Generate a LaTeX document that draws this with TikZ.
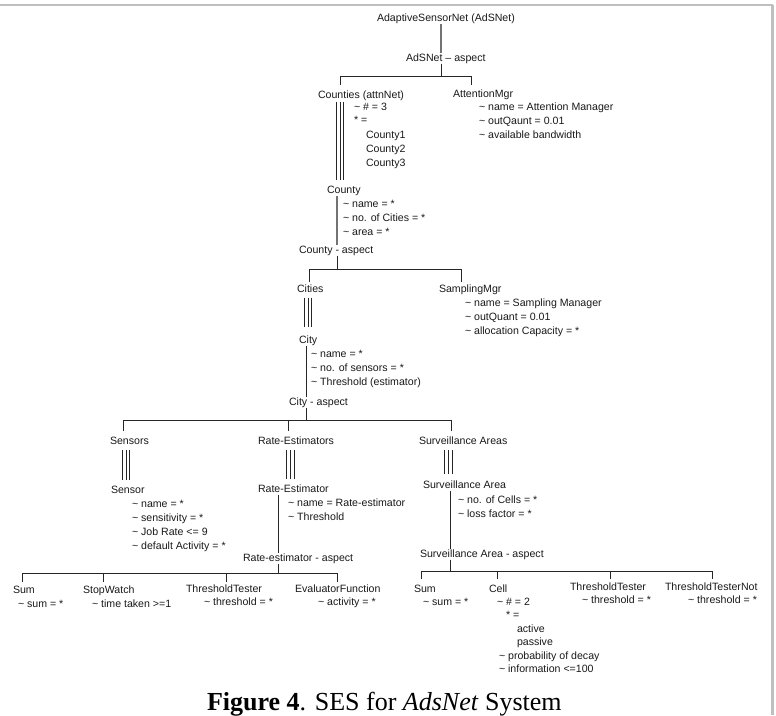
\documentclass[tikz,border=0pt]{standalone}
\usepackage{fontspec}
\setmainfont{Liberation Sans}
\newfontfamily\capfont{Liberation Serif}
\usetikzlibrary{calc}
\newcommand{\tld}{\textasciitilde}
\begin{document}
\begin{tikzpicture}[x=1pt,y=-1pt,
  lbl/.style={anchor=base west,inner sep=0pt,outer sep=0pt,text height=8pt,text depth=2.5pt,text=black!90,font=\fontsize{10.6}{12}\selectfont},
  conn/.style={draw=black!85,line width=1pt},
  conng/.style={draw=black!55,line width=1.6pt},
  multi/.style={draw=black!85,line width=0.9pt},
  framel/.style={draw=black!25},
  captxt/.style={anchor=base west,inner sep=0pt,outer sep=0pt,text=black,font=\capfont\fontsize{26}{28}\selectfont}]
\useasboundingbox (0,0) rectangle (776,715);
% frame
\draw[framel,line width=1.3pt] (0,5) -- (773,5);
\draw[framel,line width=2.2pt] (772.5,5) -- (772.5,715);

% ---------------- nodes ----------------
\node[lbl] (root) at (377,21) {AdaptiveSensorNet (AdSNet)};
\node[lbl] (asp1) at (406,61) {AdSNet – aspect};
\node[lbl] (counties) at (318,98) {Counties (attnNet)};
\node[lbl] (cnt1) at (354,110) {\tld{} \# = 3};
\node[lbl] (cnt2) at (354,123) {* =};
\node[lbl] (cnt3) at (366,138) {County1};
\node[lbl] (cnt4) at (366,152) {County2};
\node[lbl] (cnt5) at (366,166) {County3};
\node[lbl] (attn) at (453,97) {AttentionMgr};
\node[lbl] (attn1) at (479,110) {\tld{} name = Attention Manager};
\node[lbl] (attn2) at (479,124) {\tld{} outQaunt = 0.01};
\node[lbl] (attn3) at (479,138) {\tld{} available bandwidth};

\node[lbl] (county) at (327,193) {County};
\node[lbl] (cy1) at (343,207) {\tld{} name = *};
\node[lbl] (cy2) at (343,221) {\tld{} no. of Cities = *};
\node[lbl] (cy3) at (343,235) {\tld{} area = *};
\node[lbl] (ca) at (299,253) {County - aspect};
\node[lbl] (cities) at (297,292) {Cities};
\node[lbl] (samp) at (439,292) {SamplingMgr};
\node[lbl] (sm1) at (465,306) {\tld{} name = Sampling Manager};
\node[lbl] (sm2) at (465,320) {\tld{} outQuant = 0.01};
\node[lbl] (sm3) at (465,334) {\tld{} allocation Capacity = *};
\node[lbl] (city) at (299,343) {City};
\node[lbl] (ct1) at (311,357) {\tld{} name = *};
\node[lbl] (ct2) at (311,371) {\tld{} no. of sensors = *};
\node[lbl] (ct3) at (311,385) {\tld{} Threshold (estimator)};
\node[lbl] (cya) at (289,405) {City - aspect};

\node[lbl] (sensors) at (110,444) {Sensors};
\node[lbl] (rates) at (258,444) {Rate-Estimators};
\node[lbl] (sas) at (419,444) {Surveillance Areas};
\node[lbl] (sensor) at (111,493) {Sensor};
\node[lbl] (sn1) at (132,507) {\tld{} name = *};
\node[lbl] (sn2) at (132,521) {\tld{} sensitivity = *};
\node[lbl] (sn3) at (132,535) {\tld{} Job Rate <= 9};
\node[lbl] (sn4) at (132,549) {\tld{} default Activity = *};
\node[lbl] (rate) at (258,492) {Rate-Estimator};
\node[lbl] (rt1) at (288,506) {\tld{} name = Rate-estimator};
\node[lbl] (rt2) at (288,520) {\tld{} Threshold};
\node[lbl] (sa) at (423,488) {Surveillance Area};
\node[lbl] (sa1) at (458,503) {\tld{} no. of Cells = *};
\node[lbl] (sa2) at (458,517) {\tld{} loss factor = *};
\node[lbl] (rea) at (243,561) {Rate-estimator - aspect};
\node[lbl] (saa) at (420,557) {Surveillance Area - aspect};

\node[lbl] (sumA) at (13,593) {Sum};
\node[lbl] (sumA1) at (18,607) {\tld{} sum = *};
\node[lbl] (sw) at (83,593) {StopWatch};
\node[lbl] (sw1) at (92,607) {\tld{} time taken >=1};
\node[lbl] (ttA) at (186,592) {ThresholdTester};
\node[lbl] (ttA1) at (204,605) {\tld{} threshold = *};
\node[lbl] (ef) at (295,592) {EvaluatorFunction};
\node[lbl] (ef1) at (318,605) {\tld{} activity = *};

\node[lbl] (sumB) at (414,592) {Sum};
\node[lbl] (sumB1) at (423,605) {\tld{} sum = *};
\node[lbl] (cell) at (489,592) {Cell};
\node[lbl] (ce1) at (497,605) {\tld{} \# = 2};
\node[lbl] (ce2) at (506,618.5) {* =};
\node[lbl] (ce3) at (517,632) {active};
\node[lbl] (ce4) at (517,645.5) {passive};
\node[lbl] (ce5) at (499,659) {\tld{} probability of decay};
\node[lbl] (ce6) at (499,672.5) {\tld{} information <=100};
\node[lbl] (ttB) at (570,590) {ThresholdTester};
\node[lbl] (ttB1) at (582,603) {\tld{} threshold = *};
\node[lbl] (ttn) at (665,590) {ThresholdTesterNot};
\node[lbl] (ttn1) at (688,603) {\tld{} threshold = *};

\node[captxt] (cap) at (207,710.5) {\textbf{Figure 4}. SES for \textit{AdsNet} System};

% ---------------- connectors ----------------
% AdSNet
\coordinate (j0) at (441,76);
\coordinate (j0l) at (340,76);
\coordinate (j0r) at (471,76);
\draw[conng] (root.south -| j0) -- (asp1.north -| j0);
\draw[conn] (asp1.south -| j0) -- (j0);
\draw[conn] ($(counties.north -| j0l)+(0,-5)$) -- (j0l) -- (j0r) -- ($(attn.north -| j0r)+(0,-4)$);
\coordinate (m0) at (340,0);
\foreach \d in {-3.2,0,3.2}{\draw[multi] ($(counties.south -| m0)+(\d,1)$) -- ($(county.north -| m0)+(\d,-5)$);}

% County
\coordinate (j1) at (337,269);
\coordinate (j1l) at (309,269);
\coordinate (j1r) at (461,269);
\draw[conng] (county.south -| j1) -- (ca.north -| j1);
\draw[conn] (ca.south -| j1) -- (j1);
\draw[conn] ($(cities.north -| j1l)+(0,-2)$) -- (j1l) -- (j1r) -- ($(samp.north -| j1r)+(0,-2)$);
\coordinate (m1) at (308,0);
\foreach \d in {-3.5,0,3.5}{\draw[multi] ($(cities.south -| m1)+(\d,3)$) -- ($(city.north -| m1)+(\d,-8)$);}

% City
\coordinate (j2) at (306,420);
\coordinate (j2a) at (123,420);
\coordinate (j2b) at (288,420);
\coordinate (j2c) at (451,420);
\draw[conn] (city.south -| j2) -- (cya.north -| j2);
\draw[conn] (cya.south -| j2) -- (j2);
\draw[conn] ($(sensors.north -| j2a)+(0,-5)$) -- (j2a) -- (j2c) -- ($(sas.north -| j2c)+(0,-5)$);
\draw[conn] (j2b) -- ($(rates.north -| j2b)+(0,-5)$);
\coordinate (m2a) at (126,0);
\coordinate (m2b) at (290.5,0);
\coordinate (m2c) at (448.5,0);
\foreach \d in {-3.6,0,3.6}{
  \draw[multi] ($(sensors.south -| m2a)+(\d,3.5)$) -- ($(sensor.north -| m2a)+(\d,-5)$);
  \draw[multi] ($(rates.south -| m2b)+(\d,3.5)$) -- ($(rate.north -| m2b)+(\d,-5)$);
  \draw[multi] ($(sas.south -| m2c)+(\d,3.5)$) -- ($(sa.north -| m2c)+(\d,-6)$);
}

% Rate-estimator aspect
\coordinate (j3) at (278,573);
\coordinate (j3a) at (22,573);
\coordinate (j3b) at (103,573);
\coordinate (j3c) at (226,573);
\coordinate (j3d) at (337,573);
\draw[conn] (rate.south -| j3) -- (rea.north -| j3);
\draw[conn] (rea.south -| j3) -- (j3);
\draw[conn] ($(sumA.north -| j3a)+(0,-3)$) -- (j3a) -- (j3d) -- ($(ef.north -| j3d)+(0,-2)$);
\draw[conn] (j3b) -- ($(sw.north -| j3b)+(0,-3)$);
\draw[conn] (j3c) -- ($(ttA.north -| j3c)+(0,-2)$);

% Surveillance Area aspect
\coordinate (j4) at (450,571);
\coordinate (j4a) at (421,571);
\coordinate (j4b) at (497,571);
\coordinate (j4c) at (610,571);
\coordinate (j4d) at (712,571);
\draw[conn] (sa.south -| j4) -- (saa.north -| j4);
\draw[conn] (saa.south -| j4) -- (j4);
\draw[conn] ($(sumB.north -| j4a)+(0,-5)$) -- (j4a) -- (j4d) -- ($(ttn.north -| j4d)+(0,-3)$);
\draw[conn] (j4b) -- ($(cell.north -| j4b)+(0,-5)$);
\draw[conn] (j4c) -- ($(ttB.north -| j4c)+(0,-3)$);
\end{tikzpicture}
\end{document}
